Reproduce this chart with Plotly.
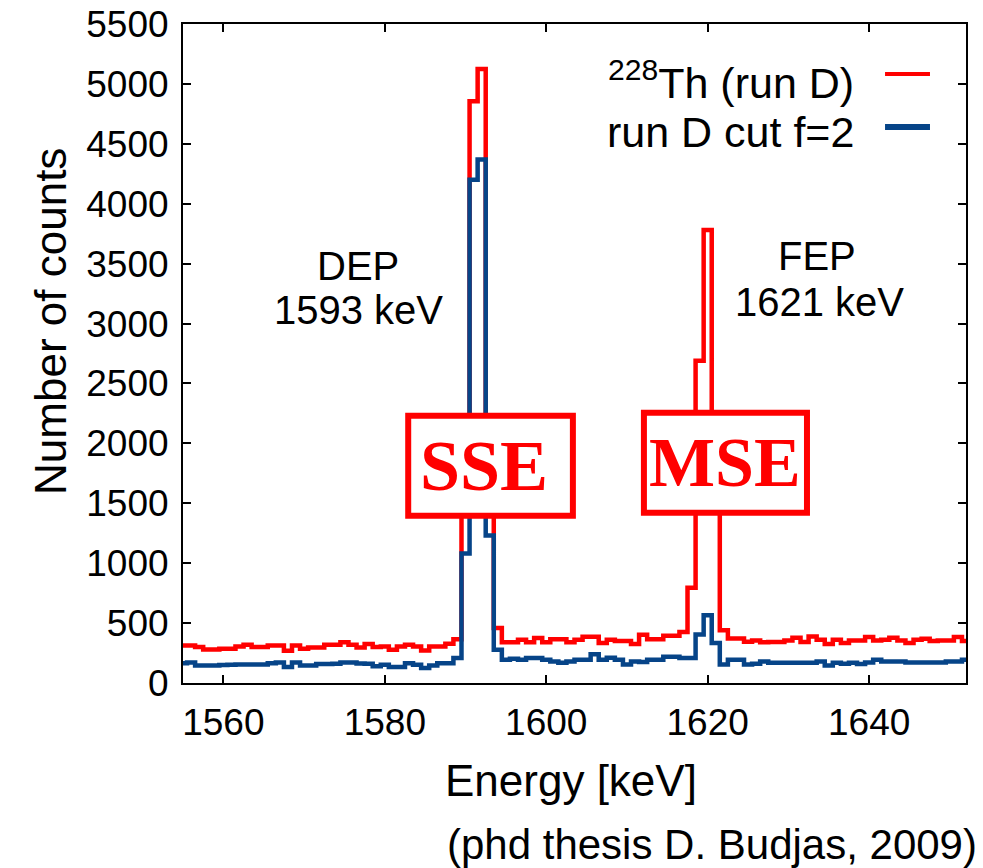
import plotly.graph_objects as go

# Bin centres (keV), 1 keV bins
energy = list(range(1555, 1653))

th228_run_d = [
    313, 313, 300, 280, 280, 285, 285, 305, 319, 300,   # 1555-1564
    300, 313, 313, 270, 313, 285, 297, 297, 319, 319,   # 1565-1574
    341, 319, 297, 325, 300, 305, 277, 305, 319, 305,   # 1575-1584
    272, 305, 305, 327, 366, 1420, 4855, 5125, 1450, 460,  # 1585-1594
    341, 341, 360, 340, 375, 341, 366, 366, 341, 361,   # 1595-1604
    385, 385, 333, 361, 350, 350, 325, 402, 366, 366,   # 1605-1614
    394, 394, 425, 794, 2690, 3780, 1800, 440, 372, 372,  # 1615-1624
    345, 355, 340, 342, 342, 355, 377, 342, 388, 361,   # 1625-1634
    325, 361, 333, 355, 355, 383, 355, 360, 377, 355,   # 1635-1644
    333, 361, 370, 350, 355, 355, 383, 350,             # 1645-1652
]

run_d_cut = [
    165, 172, 147, 147, 147, 150, 153, 155, 155, 155,   # 1555-1564
    155, 164, 172, 133, 172, 147, 147, 158, 158, 160,   # 1565-1574
    172, 172, 162, 161, 140, 153, 133, 133, 164, 153,   # 1575-1584
    125, 147, 164, 164, 208, 1080, 4200, 4370, 1230, 277,  # 1585-1594
    194, 202, 194, 208, 208, 194, 180, 170, 180, 194,   # 1595-1604
    194, 240, 194, 211, 194, 155, 180, 175, 194, 194,   # 1605-1614
    219, 219, 208, 208, 405, 565, 333, 155, 194, 194,   # 1615-1624
    155, 160, 180, 169, 169, 169, 169, 169, 169, 180,   # 1625-1634
    147, 169, 161, 169, 158, 172, 194, 180, 180, 180,   # 1635-1644
    172, 172, 172, 172, 172, 180, 180, 194,             # 1645-1652
]

x_ticks = [1560, 1580, 1600, 1620, 1640]
y_ticks = list(range(0, 5501, 500))

RED = "#ff0000"
BLUE = "#064488"
FONT = "Liberation Sans, Arial, sans-serif"
SERIF = "Liberation Serif, Times New Roman, serif"

fig = go.Figure()
fig.add_trace(go.Scatter(x=energy, y=th228_run_d, mode="lines", line_shape="hvh",
                         line=dict(color=RED, width=4.5), name="228Th (run D)", showlegend=False))
fig.add_trace(go.Scatter(x=energy, y=run_d_cut, mode="lines", line_shape="hvh",
                         line=dict(color=BLUE, width=4.5), name="run D cut f=2", showlegend=False))

# SSE / MSE boxes (white filled, drawn above the histogram)
fig.add_shape(type="rect", xref="x", yref="y", x0=1582.9, x1=1603.3, y0=1396, y1=2231,
              line=dict(color=RED, width=6), fillcolor="white", layer="above")
fig.add_shape(type="rect", xref="x", yref="y", x0=1612.1, x1=1632.3, y0=1421, y1=2256,
              line=dict(color=RED, width=6), fillcolor="white", layer="above")

# legend samples (gnuplot style: text then line)
fig.add_shape(type="line", xref="paper", yref="paper", x0=0.8966, x1=0.954, y0=0.9241, y1=0.9241,
              line=dict(color=RED, width=4))
fig.add_shape(type="line", xref="paper", yref="paper", x0=0.8966, x1=0.954, y0=0.8437, y1=0.8437,
              line=dict(color=BLUE, width=6))

ann = []
def text(x, y, s, size, xref="x", yref="y", xanchor="center", family=FONT, color="black", angle=0):
    ann.append(dict(x=x, y=y, xref=xref, yref=yref, text=s, showarrow=False,
                    xanchor=xanchor, yanchor="middle", textangle=angle,
                    font=dict(family=family, size=size, color=color)))

text(1592.3, 1814, "<b>SSE</b>", 72, family=SERIF, color=RED)
text(1622.2, 1839, "<b>MSE</b>", 70, family=SERIF, color=RED)
text(1576.7, 3484, "DEP", 40)
text(1576.7, 3116, "1593 keV", 40)
text(1633.6, 3567, "FEP", 40)
text(1633.8, 3183, "1621 keV", 40)
text(0.860, 0.9153, "<sup>228</sup>Th (run D)", 43, xref="paper", yref="paper", xanchor="right")
text(0.860, 0.8366, "run D cut f=2", 43, xref="paper", yref="paper", xanchor="right")
text(0.4955, -0.1472, "Energy [keV]", 44, xref="paper", yref="paper")
text(-0.170, 0.5493, "Number of counts", 44, xref="paper", yref="paper", angle=-90)
text(1.016, -0.2458, "(phd thesis D. Budjas, 2009)", 42, xref="paper", yref="paper", xanchor="right")

fig.update_layout(
    width=983, height=868,
    margin=dict(l=183, r=17, t=24, b=185),
    paper_bgcolor="white", plot_bgcolor="white",
    annotations=ann,
    showlegend=False,
    font=dict(family=FONT, color="black"),
)
fig.update_xaxes(range=[1555, 1652], tickvals=x_ticks, ticks="inside", ticklen=8, tickwidth=1.5,
                 tickcolor="black", showline=True, linecolor="black", linewidth=2, mirror="ticks",
                 showgrid=False, zeroline=False, tickfont=dict(size=37, family=FONT),
                 ticklabelstandoff=6, automargin=False, ticklabeloverflow="allow")
fig.update_yaxes(range=[0, 5500], tickvals=y_ticks, ticks="inside", ticklen=8, tickwidth=1.5,
                 tickcolor="black", showline=True, linecolor="black", linewidth=2, mirror="ticks",
                 showgrid=False, zeroline=False, tickfont=dict(size=37, family=FONT),
                 ticklabelstandoff=5, automargin=False, ticklabeloverflow="allow")

fig.write_html("out.html")
